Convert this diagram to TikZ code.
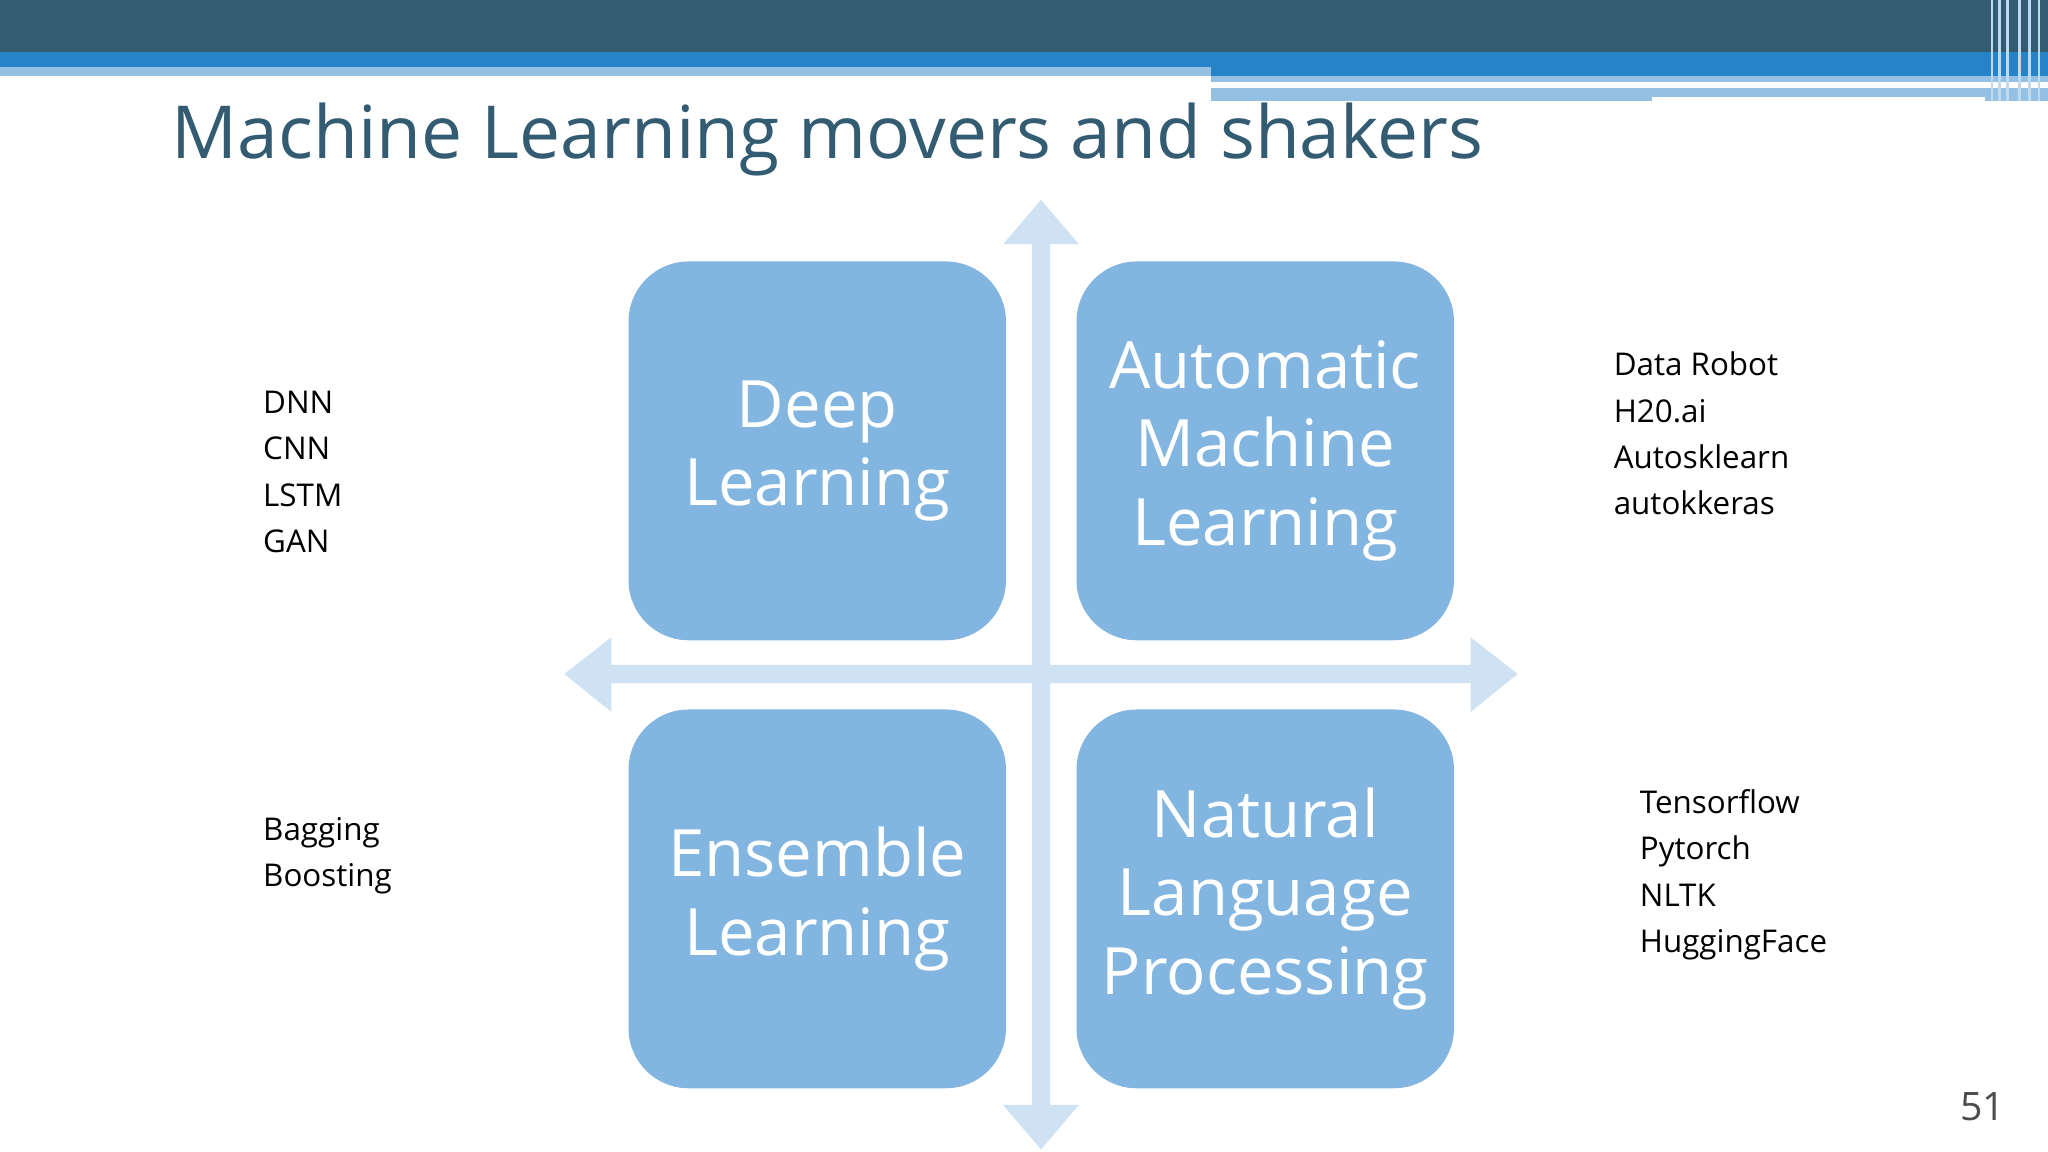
\documentclass[tikz,border=0pt]{standalone}
\usepackage{fontspec}
\setmainfont{Open Sans}
\begin{document}
\begin{tikzpicture}[x=1pt,y=-1pt,
box/.style={fill=boxc,rounded corners=46pt,minimum width=289pt,minimum height=290pt,anchor=north west,text=white,align=center,font=\fontsize{50}{60}\selectfont},
side/.style={anchor=north west,align=left,font=\fontsize{24}{35.5}\selectfont}]
\definecolor{boxc}{HTML}{82B5E0}
\definecolor{arr}{HTML}{CFE2F3}
\definecolor{dark}{HTML}{335C73}
\definecolor{blu}{HTML}{2683C8}
\definecolor{lb}{HTML}{94C0E4}
\useasboundingbox (0,0) rectangle (1568,882);
\fill[white] (0,0) rectangle (1568,882);
\fill[dark] (0,0) rectangle (1568,40);
\fill[blu] (0,40) rectangle (1568,58);
\fill[lb] (0,51) rectangle (927,58);
\fill[lb] (927,58) rectangle (1568,63);
\fill[lb] (927,67) rectangle (1568,77);
\fill[white] (1265,74) rectangle (1520,77);
\foreach \x in {1524,1530,1536,1545,1553,1560}{\fill[lb!60] (\x,0) rectangle (\x+2,77);}
\node[anchor=west,text=dark,font=\fontsize{56}{60}\selectfont] (t) at (128,107) {Machine Learning movers and shakers};
% arrows
\fill[arr] (790,187) -- (768,187) -- (797,153) -- (826,187) -- (804,187) -- (804,846) -- (826,846) -- (797,880) -- (768,846) -- (790,846) -- cycle;
\fill[arr] (468,509) -- (468,488) -- (432,516) -- (468,545) -- (468,523) -- (1126,523) -- (1126,545) -- (1162,516) -- (1126,488) -- (1126,509) -- cycle;
\node[box] (dl) at (481,200) {Deep\\Learning};
\node[box] (aml) at (824,200) {Automatic\\Machine\\Learning};
\node[box] (el) at (481,543) {Ensemble\\Learning};
\node[box] (nlp) at (824,543) {Natural\\Language\\Processing};
\node[side] (s1) at (198,296) {DNN\\CNN\\LSTM\\GAN};
\node[side] (s2) at (1232,266) {Data Robot\\H20.ai\\Autosklearn\\autokkeras};
\node[side] (s3) at (198,622) {Bagging\\Boosting};
\node[side] (s4) at (1252,601) {Tensorflow\\Pytorch\\NLTK\\HuggingFace};
\node[text=black!70,font=\fontsize{30}{36}\selectfont] (n) at (1518,847) {51};
\end{tikzpicture}
\end{document}
